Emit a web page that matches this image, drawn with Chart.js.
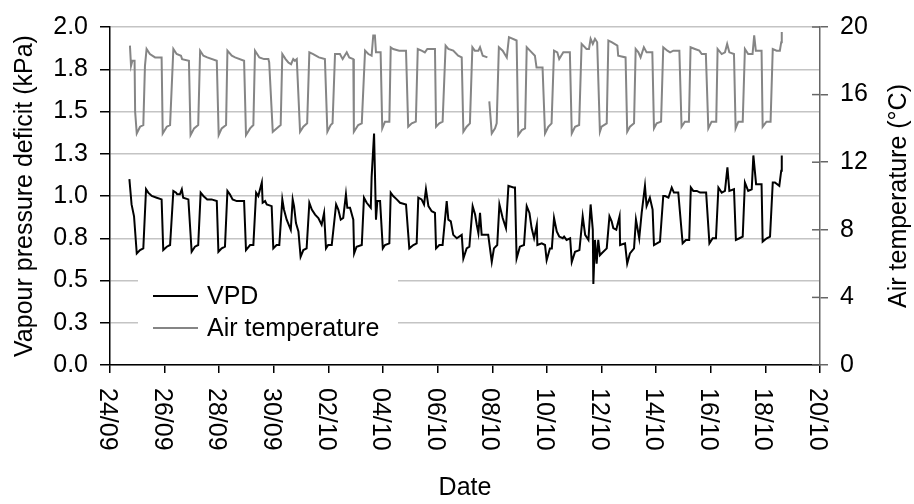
<!DOCTYPE html>
<html>
<head>
<meta charset="utf-8">
<script src="https://cdn.jsdelivr.net/npm/chart.js@4.4.1/dist/chart.umd.min.js"></script>
<style>
  html, body { margin: 0; padding: 0; background: #fff; }
</style>
</head>
<body>
<canvas id="vpdChart" width="914" height="504"></canvas>
<script>
// days since 24/09 00:00
var dateLabels = ["24/09", "26/09", "28/09", "30/09", "02/10", "04/10", "06/10",
  "08/10", "10/10", "12/10", "14/10", "16/10", "18/10", "20/10"];
var vpdTickLabels = ["0.0", "0.3", "0.5", "0.8", "1.0", "1.3", "1.5", "1.8", "2.0"];
var tempTickLabels = ["0", "4", "8", "12", "16", "20"];

var vpdDays = [0.71,0.79,0.88,0.98,1.10,1.22,1.32,1.40,1.53,1.71,
  1.89,1.95,2.08,2.20,2.32,2.42,2.46,2.56,2.63,2.68,
  2.87,2.99,3.11,3.23,3.32,3.42,3.56,3.72,3.91,3.97,
  4.09,4.21,4.30,4.39,4.49,4.64,4.91,4.98,5.13,5.25,
  5.35,5.43,5.56,5.59,5.68,5.74,5.92,5.98,6.10,6.20,
  6.31,6.37,6.47,6.62,6.69,6.74,6.81,6.90,6.98,7.08,
  7.20,7.30,7.39,7.51,7.63,7.75,7.84,7.91,7.99,8.12,
  8.28,8.36,8.45,8.54,8.64,8.69,8.79,8.91,8.94,9.03,
  9.22,9.30,9.40,9.50,9.55,9.58,9.67,9.74,9.79,9.89,
  9.99,10.07,10.23,10.28,10.37,10.50,10.62,10.84,10.96,11.11,
  11.23,11.29,11.41,11.50,11.57,11.66,11.78,11.90,11.94,12.06,
  12.18,12.33,12.39,12.48,12.57,12.70,12.88,12.94,13.06,13.16,
  13.28,13.37,13.43,13.49,13.55,13.61,13.73,13.85,13.98,14.06,
  14.18,14.26,14.38,14.50,14.59,14.77,14.83,14.89,15.01,15.16,
  15.26,15.36,15.44,15.53,15.63,15.65,15.81,15.93,15.99,16.11,
  16.18,16.26,16.36,16.45,16.58,16.63,16.72,16.85,16.91,17.03,
  17.19,17.31,17.40,17.52,17.60,17.68,17.70,17.76,17.82,17.88,
  17.94,18.00,18.19,18.29,18.37,18.43,18.54,18.66,18.68,18.86,
  18.94,19.04,19.19,19.26,19.38,19.47,19.59,19.65,19.77,19.87,
  19.92,20.14,20.26,20.33,20.45,20.57,20.65,20.81,20.97,21.09,
  21.21,21.27,21.36,21.49,21.61,21.73,21.83,21.95,22.07,22.19,
  22.28,22.40,22.52,22.61,22.68,22.85,22.92,23.05,23.17,23.25,
  23.37,23.50,23.56,23.66,23.86,23.90,24.05,24.17,24.27,24.35,
  24.51,24.58,24.60];
var vpdValues = [1.10,0.95,0.88,0.66,0.68,0.69,1.04,1.02,1.00,0.99,
  0.98,0.68,0.70,0.71,1.03,1.02,1.01,1.01,1.04,0.99,
  0.98,0.67,0.70,0.71,1.02,1.00,0.98,0.98,0.97,0.67,
  0.69,0.70,1.03,1.01,0.98,0.97,0.97,0.68,0.71,0.71,
  1.02,1.00,1.08,0.96,0.97,0.95,0.94,0.69,0.71,0.71,
  0.98,0.92,0.86,0.80,0.98,0.94,0.84,0.79,0.64,0.68,
  0.69,0.96,0.92,0.89,0.87,0.83,0.90,0.69,0.71,0.71,
  0.95,0.92,0.86,0.87,1.01,0.93,0.93,0.86,0.66,0.70,
  0.71,0.99,0.96,0.94,0.93,1.11,1.37,0.86,0.97,0.97,
  0.69,0.71,0.72,1.02,1.00,0.98,0.96,0.95,0.69,0.71,
  0.72,0.99,0.98,0.95,1.04,0.94,0.91,0.90,0.69,0.71,
  0.71,0.97,0.86,0.85,0.77,0.75,0.77,0.63,0.69,0.70,
  0.94,0.89,0.83,0.78,0.90,0.77,0.77,0.77,0.61,0.69,
  0.71,0.95,0.87,0.81,1.06,1.05,1.05,0.63,0.70,0.71,
  0.94,0.90,0.81,0.75,0.83,0.71,0.72,0.71,0.62,0.69,
  0.69,0.87,0.79,0.76,0.75,0.76,0.74,0.75,0.61,0.67,
  0.68,0.88,0.77,0.74,0.95,0.80,0.48,0.74,0.60,0.74,
  0.65,0.66,0.69,0.88,0.85,0.81,0.80,0.88,0.71,0.72,
  0.60,0.66,0.69,0.86,0.75,0.90,1.06,0.94,0.99,0.92,
  0.71,0.73,1.00,1.00,0.99,1.05,1.02,1.02,0.72,0.74,
  0.74,1.05,1.03,1.03,1.02,1.02,1.02,0.72,0.75,0.75,
  1.05,1.02,1.03,1.17,1.03,1.04,0.74,0.75,0.76,1.08,
  1.03,1.04,1.24,1.07,1.07,0.73,0.75,0.76,1.08,1.08,
  1.06,1.15,1.24];

// null marks the logger gap on 07/10
var tempDays = [0.73,0.77,0.82,0.90,0.92,0.98,1.10,1.22,1.28,1.34,
  1.46,1.65,1.89,1.93,2.08,2.20,2.32,2.44,2.60,2.64,
  2.89,2.95,3.08,3.23,3.30,3.42,3.56,3.91,3.98,4.09,
  4.25,4.30,4.46,4.58,4.91,4.98,5.13,5.25,5.31,5.47,
  5.64,5.80,5.83,5.96,6.10,6.25,6.31,6.43,6.53,6.63,
  6.71,6.77,6.84,6.96,7.08,7.22,7.30,7.44,7.65,7.87,
  7.96,8.08,8.15,8.24,8.42,8.52,8.67,8.76,8.91,8.93,
  9.09,9.22,9.34,9.46,9.58,9.64,9.70,9.74,9.91,9.97,
  10.07,10.23,10.28,10.37,10.59,10.84,10.92,11.05,11.20,11.27,
  11.41,11.53,11.62,11.90,11.94,12.06,12.18,12.29,12.39,12.57,
  12.75,12.88,12.94,13.06,13.18,13.27,13.36,13.49,13.55,13.65,
  13.82,13.85,
  13.89,13.98,14.10,14.16,14.24,14.38,14.53,14.61,14.89,
  14.95,15.08,15.20,15.26,15.38,15.56,15.62,15.84,15.93,16.05,
  16.17,16.26,16.38,16.45,16.60,16.84,16.91,17.03,17.18,17.27,
  17.45,17.54,17.60,17.68,17.76,17.84,17.94,18.00,18.19,18.25,
  18.37,18.58,18.61,18.88,18.94,19.04,19.19,19.25,19.35,19.43,
  19.55,19.65,19.86,19.92,20.02,20.18,20.26,20.41,20.51,20.63,
  20.85,20.93,21.05,21.20,21.26,21.42,21.58,21.67,21.82,21.91,
  22.03,22.20,22.25,22.40,22.52,22.60,22.68,22.85,22.91,23.01,
  23.17,23.25,23.37,23.53,23.59,23.65,23.86,23.90,24.04,24.19,
  24.27,24.41,24.53,24.58,24.60];
var tempValues = [18.9,17.7,18.0,18.0,15.0,13.7,14.1,14.2,17.7,18.7,
  18.4,18.2,18.2,13.7,14.1,14.2,18.7,18.4,18.3,18.1,
  18.0,13.6,14.0,14.2,18.6,18.3,18.2,18.0,13.6,14.0,
  14.2,18.6,18.3,18.2,18.0,13.6,14.0,14.2,18.6,18.2,
  18.1,18.1,17.9,13.8,14.0,14.2,18.4,18.1,17.9,17.8,
  18.1,18.0,18.1,13.8,14.1,14.3,18.5,18.4,18.2,18.1,
  13.8,14.2,14.3,18.4,18.4,18.1,18.5,18.2,18.1,13.8,
  14.2,14.3,18.6,18.4,18.3,19.5,19.5,18.5,18.5,14.0,
  14.4,14.4,18.8,18.7,18.6,18.6,14.1,14.3,14.4,18.7,
  18.6,18.5,18.7,18.7,14.1,14.3,14.4,18.9,18.7,18.6,
  18.3,18.2,13.8,14.1,14.3,18.8,18.6,18.6,18.8,18.3,
  18.2,null,
  15.6,13.7,14.0,14.3,18.8,18.6,18.2,19.4,19.2,
  13.6,13.9,14.0,18.8,18.6,18.3,17.6,17.6,13.7,14.1,
  14.3,18.6,18.5,18.1,18.5,18.5,13.7,14.1,14.2,19.0,
  18.7,18.7,19.3,19.0,19.3,19.1,13.8,14.1,14.3,19.2,
  19.1,18.9,18.3,18.2,13.8,14.1,14.3,18.7,18.5,18.2,
  18.8,18.5,18.5,14.0,14.3,14.4,18.8,18.6,18.5,18.6,
  18.6,14.1,14.4,14.4,18.8,18.7,18.6,18.4,18.4,14.0,
  14.4,14.4,18.7,18.4,18.5,19.0,18.5,18.4,14.0,14.4,
  14.4,18.7,18.4,18.4,19.5,18.6,18.6,14.1,14.4,14.4,
  18.7,18.6,18.6,19.1,19.7];

function pairs(xs, ys) {
  var out = [];
  for (var i = 0; i < Math.min(xs.length, ys.length); i++) {
    out.push({ x: xs[i], y: ys[i] });
  }
  return out;
}

var FONT_FAMILY = "'Liberation Sans', Arial, sans-serif";
Chart.defaults.font.family = FONT_FAMILY;
Chart.defaults.font.size = 25;
Chart.defaults.color = "#000";

// extra text the scales can't draw the same way (clockwise x labels, right title)
// plus the in-plot legend with its white box
var extras = {
  id: "extras",
  beforeDatasetsDraw: function (chart) {
    var ctx = chart.ctx;
    ctx.save();
    ctx.fillStyle = "#fff";
    ctx.fillRect(138, 268, 260, 78);
    ctx.restore();
  },
  afterDraw: function (chart) {
    var ctx = chart.ctx;
    var xs = chart.scales.x;
    var yr = chart.scales.yTemp;
    ctx.save();
    ctx.font = "25px " + FONT_FAMILY;
    ctx.fillStyle = "#000";

    xs.ticks.forEach(function (t, i) {
      ctx.save();
      ctx.translate(xs.getPixelForValue(t.value) - 3, 388);
      ctx.rotate(Math.PI / 2);
      ctx.textAlign = "left";
      ctx.textBaseline = "middle";
      ctx.fillText(dateLabels[i], 0, 0);
      ctx.restore();
    });

    // inner half of the crossing ticks on the right axis
    ctx.strokeStyle = "#666";
    ctx.lineWidth = 1.5;
    yr.ticks.forEach(function (t) {
      var py = yr.getPixelForValue(t.value);
      ctx.beginPath();
      ctx.moveTo(yr.left - 8, py);
      ctx.lineTo(yr.left, py);
      ctx.stroke();
    });

    ctx.save();
    ctx.translate(899, (chart.chartArea.top + chart.chartArea.bottom) / 2);
    ctx.rotate(-Math.PI / 2);
    ctx.textAlign = "center";
    ctx.textBaseline = "middle";
    ctx.fillText("Air temperature (°C)", 0, 0);
    ctx.restore();

    // legend
    var rows = [296, 328];
    chart.data.datasets.forEach(function (ds, i) {
      ctx.strokeStyle = ds.borderColor;
      ctx.lineWidth = ds.borderWidth;
      ctx.beginPath();
      ctx.moveTo(153, rows[i]);
      ctx.lineTo(198, rows[i]);
      ctx.stroke();
      ctx.textAlign = "left";
      ctx.textBaseline = "alphabetic";
      ctx.fillText(ds.label, 207, rows[i] + 8);
    });
    ctx.restore();
  }
};

var ctx1 = document.getElementById("vpdChart").getContext("2d");
var vpdChart = new Chart(ctx1, {
  type: "line",
  data: {
    datasets: [
      {
        label: "VPD",
        data: pairs(vpdDays, vpdValues),
        yAxisID: "yVpd",
        borderColor: "#000",
        borderWidth: 2,
        pointRadius: 0,
        tension: 0,
        fill: false,
      },
      {
        label: "Air temperature",
        data: pairs(tempDays, tempValues),
        yAxisID: "yTemp",
        borderColor: "#858585",
        borderWidth: 2,
        pointRadius: 0,
        tension: 0,
        fill: false,
        spanGaps: false,
      },
    ],
  },
  options: {
    responsive: false,
    animation: false,
    events: [],
    layout: { padding: { top: 20, left: 0, right: 0, bottom: 0 } },
    plugins: {
      legend: { display: false },
      tooltip: { enabled: false },
    },
    scales: {
      x: {
        type: "linear",
        min: 0,
        max: 26,
        afterFit: function (s) { s.height = 139; },
        ticks: { stepSize: 2, display: false },
        grid: { drawOnChartArea: false, tickLength: 8, tickColor: "#000", lineWidth: 1.5 },
        border: { color: "#000", width: 1.5 },
        title: { display: true, text: "Date", padding: { top: 0, bottom: 1 } },
      },
      yVpd: {
        position: "left",
        min: 0,
        max: 2,
        afterFit: function (s) { s.width = 110; },
        ticks: {
          stepSize: 0.25,
          padding: 12,
          callback: function (v, i) { return vpdTickLabels[i]; },
        },
        grid: { color: "#c4c4c4", lineWidth: 1.5, tickLength: 10, tickColor: "#000" },
        border: { color: "#000", width: 1.5 },
        title: { display: true, text: "Vapour pressure deficit (kPa)", padding: { top: 10, bottom: 0 } },
      },
      yTemp: {
        position: "right",
        min: 0,
        max: 20,
        afterFit: function (s) { s.width = 94; },
        ticks: {
          stepSize: 4,
          padding: 12,
          callback: function (v, i) { return tempTickLabels[i]; },
        },
        grid: { drawOnChartArea: false, tickLength: 8, tickColor: "#666", lineWidth: 1.5 },
        border: { color: "#666", width: 1.5 },
      },
    },
  },
  plugins: [extras],
});
</script>
</body>
</html>
